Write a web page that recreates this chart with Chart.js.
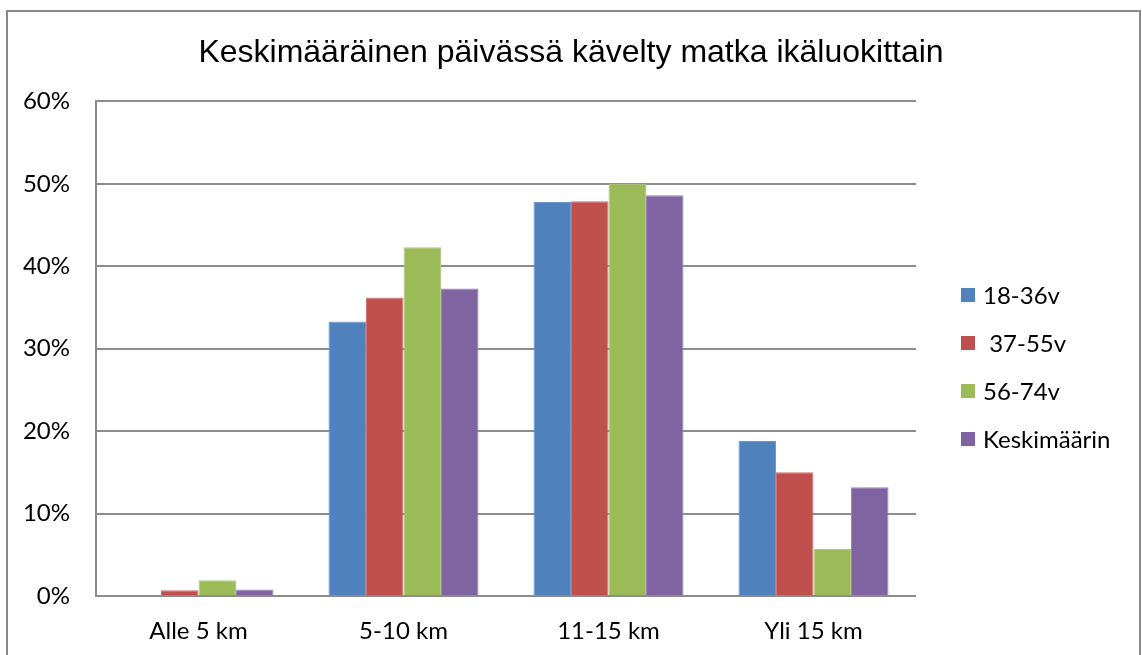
<!DOCTYPE html>
<html>
<head>
<meta charset="utf-8">
<script src="https://cdn.jsdelivr.net/npm/chart.js@4"></script>
<style>
html,body{margin:0;padding:0;background:#fff;}
#wrap{width:1142px;height:655px;position:relative;}
</style>
</head>
<body>
<div id="wrap"><canvas id="c" width="1142" height="655"></canvas></div>
<script>
const categories = ['Alle 5 km', '5-10 km', '11-15 km', 'Yli 15 km'];
const seriesLabels = ['18-36v', ' 37-55v', '56-74v', 'Keskimäärin'];
const age18_36 = [0, 33.3, 47.8, 18.8];
const age37_55 = [0.7, 36.2, 47.9, 15.0];
const age56_74 = [1.9, 42.3, 50.0, 5.7];
const average = [0.8, 37.3, 48.6, 13.2];
const yTicks = [0, 10, 20, 30, 40, 50, 60];
const titleText = 'Keskimääräinen päivässä kävelty matka ikäluokittain';

const fills = ['#4F81BD', '#C0504D', '#9BBB59', '#8064A2'];
const edges = ['#6E97CB', '#CF7472', '#B0CB7E', '#9A85B8'];
const values = [age18_36, age37_55, age56_74, average];
const LABEL_FONT = 'Lato, "Open Sans", sans-serif';

const frame = {
  id: 'frame',
  beforeDraw(chart) {
    const ctx = chart.ctx;
    ctx.save();
    ctx.fillStyle = '#fff';
    ctx.fillRect(0, 0, chart.width, chart.height);
    ctx.strokeStyle = '#8a8a8a';
    ctx.lineWidth = 2;
    ctx.strokeRect(7, 11, 1133, 700);
    ctx.restore();
  }
};

const sideLegend = {
  id: 'sideLegend',
  afterDraw(chart) {
    const ctx = chart.ctx;
    ctx.save();
    ctx.font = '24px ' + LABEL_FONT;
    ctx.textBaseline = 'middle';
    ctx.textAlign = 'left';
    chart.data.datasets.forEach((ds, i) => {
      const cy = 295 + i * 48;
      ctx.fillStyle = ds.backgroundColor;
      ctx.fillRect(961, cy - 7, 14, 14);
      ctx.fillStyle = '#000';
      ctx.fillText(ds.label, 983, cy + 1);
    });
    ctx.restore();
  }
};

new Chart(document.getElementById('c'), {
  type: 'bar',
  data: {
    labels: categories,
    datasets: values.map((v, i) => ({
      label: seriesLabels[i],
      data: v,
      backgroundColor: fills[i],
      borderColor: edges[i],
      borderWidth: 1,
      categoryPercentage: 0.732,
      barPercentage: 1.0
    }))
  },
  options: {
    responsive: false,
    animation: false,
    devicePixelRatio: 1,
    layout: { padding: { left: 0, right: 0, top: 11, bottom: 0 } },
    plugins: {
      legend: { display: false },
      tooltip: { enabled: false },
      title: {
        display: true,
        text: titleText,
        color: '#000',
        font: { family: '"Liberation Sans", Arial, sans-serif', size: 32, weight: 'normal', lineHeight: 1.2 },
        padding: { top: 23, bottom: 29 }
      }
    },
    scales: {
      x: {
        grid: { display: false, drawTicks: false },
        border: { display: false },
        ticks: { color: '#000', font: { family: LABEL_FONT, size: 24 }, padding: 21 },
        afterFit(s) { s.height = 59; }
      },
      y: {
        min: 0, max: 60,
        afterBuildTicks(s) { s.ticks = yTicks.map(v => ({ value: v })); },
        grid: { color: '#8c8c8c', lineWidth: 2, drawTicks: false },
        border: { display: true, color: '#8c8c8c', width: 2 },
        ticks: { color: '#000', font: { family: LABEL_FONT, size: 24 }, padding: 26, callback: v => v + '%' },
        afterFit(s) { s.width = 96; }
      },
      legendSpace: {
        type: 'linear',
        position: 'right',
        min: 0, max: 60,
        grid: { display: false, drawTicks: false },
        border: { display: false },
        ticks: { display: false },
        afterFit(s) { s.width = 226; }
      }
    }
  },
  plugins: [frame, sideLegend]
});
</script>
</body>
</html>
